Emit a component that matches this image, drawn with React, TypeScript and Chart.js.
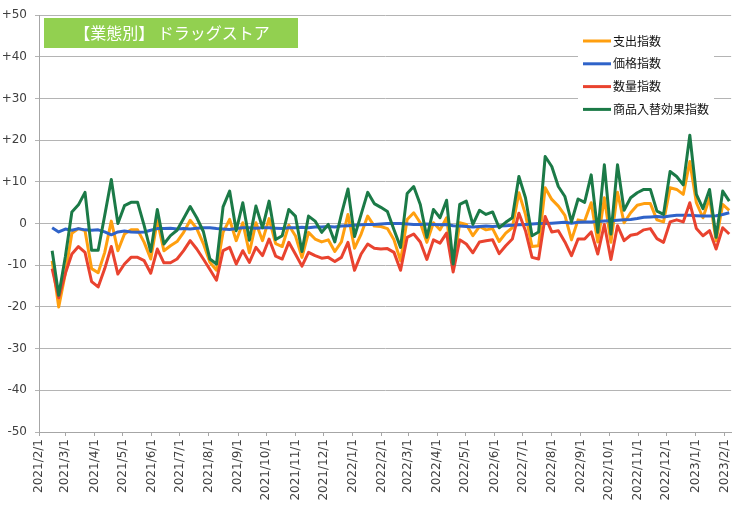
import React, { useEffect, useRef } from "react";
import { Chart, registerables } from "chart.js";

Chart.register(...registerables);

const weeks = [
  "2021/2/15", "2021/2/22", "2021/3/1", "2021/3/8", "2021/3/15", "2021/3/22", "2021/3/29",
  "2021/4/5", "2021/4/12", "2021/4/19", "2021/4/26", "2021/5/3", "2021/5/10", "2021/5/17",
  "2021/5/24", "2021/5/31", "2021/6/7", "2021/6/14", "2021/6/21", "2021/6/28", "2021/7/5",
  "2021/7/12", "2021/7/19", "2021/7/26", "2021/8/2", "2021/8/9", "2021/8/16", "2021/8/23",
  "2021/8/30", "2021/9/6", "2021/9/13", "2021/9/20", "2021/9/27", "2021/10/4", "2021/10/11",
  "2021/10/18", "2021/10/25", "2021/11/1", "2021/11/8", "2021/11/15", "2021/11/22", "2021/11/29",
  "2021/12/6", "2021/12/13", "2021/12/20", "2021/12/27", "2022/1/3", "2022/1/10", "2022/1/17",
  "2022/1/24", "2022/1/31", "2022/2/7", "2022/2/14", "2022/2/21", "2022/2/28", "2022/3/7",
  "2022/3/14", "2022/3/21", "2022/3/28", "2022/4/4", "2022/4/11", "2022/4/18", "2022/4/25",
  "2022/5/2", "2022/5/9", "2022/5/16", "2022/5/23", "2022/5/30", "2022/6/6", "2022/6/13",
  "2022/6/20", "2022/6/27", "2022/7/4", "2022/7/11", "2022/7/18", "2022/7/25", "2022/8/1",
  "2022/8/8", "2022/8/15", "2022/8/22", "2022/8/29", "2022/9/5", "2022/9/12", "2022/9/19",
  "2022/9/26", "2022/10/3", "2022/10/10", "2022/10/17", "2022/10/24", "2022/10/31", "2022/11/7",
  "2022/11/14", "2022/11/21", "2022/11/28", "2022/12/5", "2022/12/12", "2022/12/19", "2022/12/26",
  "2023/1/2", "2023/1/9", "2023/1/16", "2023/1/23", "2023/1/30", "2023/2/6",
];

const spending = [
  -8.9, -20, -12, -2.3, -1.2, -1.7, -10.8, -11.8, -6.9, 0.6, -6.5, -2.5, -1.5, -1.5, -4.5, -8.5,
  0.7, -6.5, -5.3, -4.3, -2.1, 0.8, -1.2, -4.8, -9.3, -11.2, -2.1, 1, -4.1, 0.2, -7, 0.2,
  -4.1, 1.2, -4.8, -5.5, -0.4, -2.9, -8.1, -2.1, -3.7, -4.4, -3.9, -6.7, -4.4, 2.2, -5.9, -2.5,
  1.8, -0.6, -0.7, -1.2, -3.9, -8.9, 1, 2.6, 0.2, -4.5, 0.2, -1.5, 1.4, -10.8, 0.2, -0.2,
  -2.9, -0.7, -1.5, -1.2, -4.3, -2.3, -1, 7.4, 2.2, -5.5, -5.3, 8.6, 5.8, 4.2, 2, -3.9,
  0.9, 0.6, 5, -4.4, 6.2, -4.5, 7.5, 0.2, 2.6, 4.4, 4.8, 4.8, 0.9, 0.4, 8.6, 8.2,
  7, 14.9, 5, 1.4, 6.2, -4.1, 4.6, 3.2,
];

const price = [
  -1.0, -2.0, -1.3, -1.6, -1.2, -1.5, -1.6, -1.5, -2.0, -2.7, -2.0, -1.8, -2.0, -2.1, -2.0, -1.6,
  -1.2, -1.2, -1.1, -1.3, -1.2, -1.3, -1.1, -1.0, -1.0, -1.2, -1.3, -1.4, -1.2, -1.0, -1.0, -1.1,
  -1.0, -1.0, -1.1, -1.2, -1.0, -1.0, -0.9, -1.0, -0.8, -0.8, -0.7, -0.8, -0.6, -0.5, -0.4, -0.3,
  -0.2, -0.2, -0.1, 0.0, 0.0, 0.0, -0.1, -0.2, -0.2, -0.1, -0.2, -0.3, -0.2, -0.5, -0.6, -0.7,
  -0.8, -0.7, -0.6, -0.7, -0.6, -0.5, -0.4, -0.3, -0.2, -0.1, 0, 0, 0.1, 0.2, 0.3, 0.1,
  0.3, 0.4, 0.4, 0.5, 0.6, 0.7, 0.8, 0.9, 1.0, 1.2, 1.5, 1.6, 1.7, 1.6, 1.8, 2.0,
  2.0, 2.0, 1.9, 1.8, 1.8, 1.9, 2.2, 2.6,
];

const quantity = [
  -10.8, -17.8, -12, -7.3, -5.5, -6.9, -13.9, -15.2, -10.8, -5.5, -12.1, -9.7, -8.1, -8.1, -8.9, -11.9,
  -6.1, -9.4, -9.4, -8.5, -6.5, -4.1, -6.1, -8.5, -11, -13.6, -6.5, -5.7, -9.7, -6.5, -9.3, -5.7,
  -7.7, -3.7, -7.8, -8.5, -4.5, -7.3, -10.2, -6.9, -7.7, -8.3, -8.1, -9.1, -8.1, -4.5, -11.2, -7.3,
  -4.9, -5.9, -6.1, -6, -6.9, -11.2, -3.3, -2.5, -4.4, -8.6, -3.9, -4.7, -2.3, -11.6, -3.9, -4.9,
  -7, -4.4, -4.1, -3.9, -7.2, -5.3, -3.7, 2.5, -1.7, -8.1, -8.5, 1.7, -2, -1.7, -4.4, -7.7,
  -3.7, -3.7, -2, -7.3, -0.2, -8.6, -0.5, -4.1, -2.8, -2.5, -1.5, -1.2, -3.6, -4.5, 0.4, 0.9,
  0.4, 5, -1.2, -2.9, -1.7, -6.1, -1, -2.5,
];

const mix = [
  -6.5, -17.2, -8, 2.8, 4.5, 7.5, -6.4, -6.4, 2, 10.6, 0, 4.3, 5.1, 5.1, -0.5, -6.7,
  3.4, -4.9, -2.9, -1.6, 1.2, 4.1, 1.4, -1.9, -8.5, -9.7, 4, 7.8, -1.7, 5, -4, 4.2,
  -1, 5.4, -3.8, -2.9, 3.4, 1.8, -6.7, 1.8, 0.6, -2.1, -0.2, -4.4, 2.2, 8.3, -3.1, 2.2,
  7.5, 4.8, 3.9, 2.9, -1.5, -5.7, 7.2, 8.9, 4.6, -3.3, 3.4, 1.4, 5.6, -9.7, 4.6, 5.4,
  -0.2, 3.2, 2.2, 2.8, -1, 0.3, 1.4, 11.3, 6.2, -2.9, -2, 16.1, 13.7, 8.9, 6.5, 0.4,
  5.9, 5.1, 11.7, -2.1, 14.1, -2.5, 14.1, 3.2, 6.2, 7.4, 8.2, 8.2, 3, 2.2, 12.5, 11.3,
  9.3, 21.2, 7, 3.6, 8.2, -3.3, 7.8, 5.4,
];

const monthTicks = [
  "2021/2/1", "2021/3/1", "2021/4/1", "2021/5/1", "2021/6/1", "2021/7/1", "2021/8/1",
  "2021/9/1", "2021/10/1", "2021/11/1", "2021/12/1", "2022/1/1", "2022/2/1", "2022/3/1",
  "2022/4/1", "2022/5/1", "2022/6/1", "2022/7/1", "2022/8/1", "2022/9/1", "2022/10/1",
  "2022/11/1", "2022/12/1", "2023/1/1", "2023/2/1",
];

const axisEnd = "2023/2/8";
const seriesNames = ["支出指数", "価格指数", "数量指数", "商品入替効果指数"];
const seriesColors = ["#FF9F0F", "#2F63C9", "#E9432F", "#1B7A47"];
const titleText = "【業態別】 ドラッグストア";

const base = Date.UTC(2021, 1, 1);
function dayOf(s: string): number {
  const [y, m, d] = s.split("/").map(Number);
  return Math.round((Date.UTC(y, m - 1, d) - base) / 86400000);
}

const tickDays = monthTicks.map(dayOf);
const tickLabelByDay: Record<number, string> = {};
monthTicks.forEach((t) => {
  tickLabelByDay[dayOf(t)] = t;
});

function toPoints(values: number[]) {
  return values.map((v, i) => ({ x: dayOf(weeks[i]), y: v }));
}

const overlayPlugin = {
  id: "overlay",
  afterDraw(chart: any) {
    const ctx = chart.ctx as CanvasRenderingContext2D;
    ctx.save();
    // title box
    ctx.fillStyle = "#92D050";
    ctx.fillRect(44, 18, 254, 30);
    ctx.fillStyle = "#ffffff";
    ctx.font = '16px "Noto Sans CJK JP"';
    ctx.textAlign = "center";
    ctx.textBaseline = "middle";
    ctx.fillText(titleText, 172, 33);
    // legend box
    ctx.fillStyle = "#ffffff";
    ctx.fillRect(578, 29, 136, 92);
    ctx.font = '12px "Noto Sans CJK JP"';
    ctx.textAlign = "left";
    ctx.textBaseline = "middle";
    seriesNames.forEach((name, i) => {
      const y = 41 + i * 22.8;
      ctx.strokeStyle = seriesColors[i];
      ctx.lineWidth = 3;
      ctx.beginPath();
      ctx.moveTo(583, y);
      ctx.lineTo(611, y);
      ctx.stroke();
      ctx.fillStyle = "#111111";
      ctx.fillText(name, 613, y);
    });
    ctx.restore();
  },
};

export default function App() {
  const ref = useRef<HTMLCanvasElement>(null);

  useEffect(() => {
    document.body.style.margin = "0";
    const canvas = ref.current;
    if (!canvas) return;
    const seriesValues = [spending, price, quantity, mix];
    const drawOrder = [4, 3, 2, 1];
    const chart = new Chart(canvas, {
      type: "line",
      data: {
        datasets: seriesNames.map((name, i) => ({
          label: name,
          data: toPoints(seriesValues[i]),
          borderColor: seriesColors[i],
          backgroundColor: seriesColors[i],
          borderWidth: 3,
          pointRadius: 0,
          tension: 0,
          order: drawOrder[i],
          borderJoinStyle: "round" as const,
        })),
      },
      options: {
        responsive: false,
        animation: false,
        layout: { padding: { top: 11.5, right: 4, left: 0, bottom: 0 } },
        plugins: {
          legend: { display: false },
          tooltip: { enabled: false },
          title: { display: false },
        },
        scales: {
          x: {
            type: "linear",
            min: 0,
            max: dayOf(axisEnd),
            afterBuildTicks: (scale: any) => {
              scale.ticks = tickDays.map((v) => ({ value: v }));
            },
            afterFit: (scale: any) => {
              scale.height = 78;
            },
            grid: {
              drawOnChartArea: false,
              drawTicks: true,
              tickLength: 4,
              color: "#a6a6a6",
            },
            border: { color: "#a6a6a6", width: 1 },
            ticks: {
              autoSkip: false,
              maxRotation: 90,
              minRotation: 90,
              padding: 3,
              color: "#404040",
              font: { family: '"DejaVu Sans"', size: 12 },
              callback: (v: any) => tickLabelByDay[Number(v)] ?? "",
            },
          },
          y: {
            type: "linear",
            min: -50,
            max: 50,
            afterFit: (scale: any) => {
              scale.width = 39;
            },
            grid: {
              color: "#b4b4b4",
              lineWidth: 1,
              drawTicks: true,
              tickLength: 4,
            },
            border: { color: "#a6a6a6", width: 1 },
            ticks: {
              stepSize: 10,
              padding: 8,
              color: "#404040",
              font: { family: '"DejaVu Sans"', size: 12 },
              callback: (v: any) => (Number(v) > 0 ? "+" + v : String(v)),
            },
          },
        },
      },
      plugins: [overlayPlugin],
    });
    return () => chart.destroy();
  }, []);

  return (
    <div style={{ width: 742, height: 510, background: "#ffffff" }}>
      <canvas ref={ref} width={742} height={510} style={{ display: "block" }} />
    </div>
  );
}
